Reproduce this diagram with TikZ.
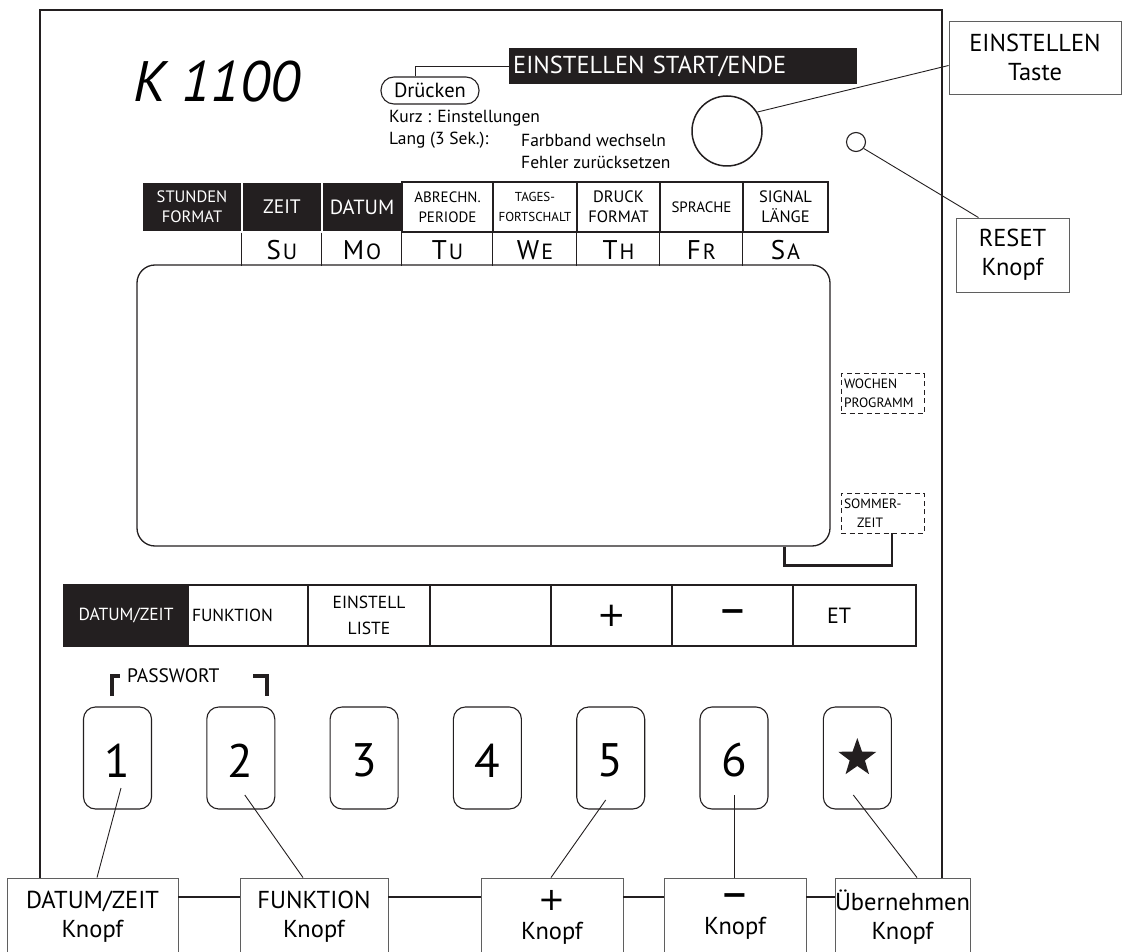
\documentclass[tikz,border=0pt]{standalone}
\usepackage{fontspec}
\setmainfont{PT Sans}
\newfontfamily\signfont{DejaVu Sans}
\usepackage{tikz}
\usetikzlibrary{shapes.geometric}
\definecolor{PanelInk}{RGB}{35,31,32}
\definecolor{TagGrey}{RGB}{95,95,95}

\begin{document}
\begin{tikzpicture}[
    x=1pt, y=-1pt,
    panel/.style={
        draw=PanelInk,
        line width=2.4pt
    },
    hcell/.style={
        rectangle,
        draw=PanelInk,
        line width=1.3pt,
        minimum height=50pt,
        inner sep=1pt,
        align=center,
        font=\fontsize{16.5}{20}\selectfont
    },
    hdark/.style={
        hcell,
        fill=PanelInk,
        draw=white,
        text=white
    },
    fcell/.style={
        rectangle,
        draw=PanelInk,
        line width=2pt,
        minimum height=61pt,
        inner sep=2pt,
        align=center,
        font=\fontsize{17.5}{26}\selectfont
    },
    fdark/.style={
        fcell,
        fill=PanelInk,
        text=white
    },
    keybox/.style={
        rectangle,
        draw=PanelInk,
        line width=1.1pt,
        rounded corners=12pt,
        minimum width=68pt,
        minimum height=102pt,
        text height=38pt,
        font=\fontsize{47}{50}\selectfont
    },
    tag/.style={
        rectangle,
        draw=TagGrey,
        line width=0.9pt,
        align=center,
        inner sep=0pt,
        font=\fontsize{24.5}{29}\selectfont
    },
    dashbox/.style={
        rectangle,
        draw=PanelInk,
        dash pattern=on 5pt off 3.5pt,
        line width=0.8pt,
        align=left,
        text width=77pt,
        inner xsep=3pt,
        inner ysep=1pt,
        minimum height=40pt,
        font=\fontsize{13.5}{19.5}\selectfont
    },
    note/.style={
        anchor=base west,
        inner sep=0pt,
        font=\fontsize{17.5}{20}\selectfont
    },
    day/.style={
        anchor=base,
        inner sep=0pt,
        font=\fontsize{27}{28}\selectfont
    },
    link/.style={
        draw=PanelInk,
        line width=0.9pt
    },
    bar/.style={
        draw=PanelInk,
        line width=2pt
    }
]

\useasboundingbox (0,0) rectangle (1122,952);

\draw[panel] (40,878) -- (40,10) -- (942,10) -- (942,878);

\node[anchor=west, inner sep=0pt, font=\itshape\fontsize{57}{60}\selectfont] (model) at (133,82)
    {K 1100};

\node[anchor=west, fill=PanelInk, text=white, text width=340pt, inner xsep=4pt,
      minimum height=36pt, font=\fontsize{24.5}{26}\selectfont] (startend) at (509,66)
    {EINSTELLEN START/ENDE};

\node[draw=PanelInk, line width=1.1pt, rounded corners=13pt, minimum width=98pt,
      minimum height=27pt, inner sep=0pt, font=\fontsize{20.5}{22}\selectfont] (press) at (430,90.5)
    {Drücken};

\node[note] (kurz) at (389,123) {Kurz : Einstellungen};
\node[note] (lang) at (389,145) {Lang (3 Sek.):};
\node[note] (band) at (521,147) {Farbband wechseln};
\node[note] (fehler) at (521,169) {Fehler zurücksetzen};

\node[circle, draw=PanelInk, line width=1.5pt, minimum size=70pt, inner sep=0pt] (setkey) at (727,131) {};
\node[circle, draw=PanelInk, line width=1.1pt, minimum size=19pt, inner sep=0pt] (resetkey) at (856,142) {};

\node[tag, minimum width=172pt, minimum height=73pt] (settag) at (1035,57.5)
    {EINSTELLEN\\Taste};
\node[tag, minimum width=113pt, minimum height=74pt] (resettag) at (1012.5,255)
    {RESET\\Knopf};


\node[hdark, minimum width=100pt] (hfmt) at (192,207) {STUNDEN\\FORMAT};
\node[hdark, minimum width=80pt, font=\fontsize{19.5}{20}\selectfont] (hzeit) at (282,207) {ZEIT};
\node[hdark, minimum width=80pt, font=\fontsize{20.5}{22}\selectfont] (hdatum) at (362,207) {DATUM};
\node[hcell, minimum width=91pt, font=\fontsize{15}{20}\selectfont] (habr) at (447.5,207) {ABRECHN.\\PERIODE};
\node[hcell, minimum width=84pt, font=\fontsize{13}{20}\selectfont] (htag) at (535,207) {TAGES-\\FORTSCHALT};
\node[hcell, minimum width=83pt] (hdruck) at (618.5,207) {DRUCK\\FORMAT};
\node[hcell, minimum width=83pt, font=\fontsize{15}{16}\selectfont] (hspr) at (701.5,207) {SPRACHE};
\node[hcell, minimum width=85pt] (hsig) at (785.5,207) {SIGNAL\\LÄNGE};

\foreach \c in {hzeit,hdatum,habr,htag,hdruck,hspr,hsig}
    \draw[PanelInk, line width=1.5pt] (\c.south west) -- ++(0,33);

\foreach \c/\a/\b in {hzeit/S/U,hdatum/M/O,habr/T/U,htag/W/E,hdruck/T/H,hspr/F/R,hsig/S/A}
    \node[day] (d\c) at ([yshift=-27pt]\c.south) {\a\kern2pt{\fontsize{22}{22}\selectfont\b}};


\node[draw=PanelInk, line width=1.3pt, rounded corners=18pt, minimum width=693pt,
      minimum height=281pt] (display) at (483.5,405.5) {};

\node[dashbox] (weekprog) at (882.5,393.5) {WOCHEN\\PROGRAMM};
\node[dashbox] (summer) at (882.5,513) {SOMMER-\\\hspace*{13pt}ZEIT};


\node[fdark, minimum width=124pt] (fdz) at (126,615.5) {DATUM/ZEIT};
\node[fcell, text width=112pt, inner xsep=4pt, align=left] (ffn) at (248,615.5) {FUNKTION};
\node[fcell, minimum width=122pt] (fset) at (369,615.5) {EINSTELL\\LISTE};
\node[fcell, minimum width=121pt] (fblank) at (490.5,615.5) {};
\node[fcell, minimum width=121pt, font=\signfont\fontsize{34}{34}\selectfont] (fplus) at (611.5,615.5) {+};
\node[fcell, minimum width=121pt, font=\signfont\bfseries\fontsize{32}{34}\selectfont] (fminus) at (732.5,615.5) {−};
\node[fcell, text width=115pt, inner xsep=4pt, align=left, font=\fontsize{22}{24}\selectfont] (fet) at (854.5,615.5)
    {\hspace*{30pt}ET};

\node[anchor=base west, inner sep=0pt, font=\fontsize{19.5}{20}\selectfont] (pw) at (127,682) {PASSWORT};


\node[keybox] (k1) at (117.5,758) {1};
\node[keybox] (k2) at (240.8,758) {2};
\node[keybox] (k3) at (364.1,758) {3};
\node[keybox] (k4) at (487.4,758) {4};
\node[keybox] (k5) at (610.7,758) {5};
\node[keybox] (k6) at (734,758) {6};
\node[keybox] (kstar) at (857.3,758) {};
\node[star, star points=5, star point ratio=2.5, fill=PanelInk, minimum size=40pt, inner sep=0pt] (starmark) at (kstar) {};


\node[tag, minimum width=171pt, minimum height=78pt] (tdz) at (92.5,917)
    {DATUM/ZEIT\\Knopf};
\node[tag, minimum width=148pt, minimum height=78pt] (tfn) at (314,917)
    {FUNKTION\\Knopf};
\node[tag, minimum width=142pt, minimum height=78pt] (tplus) at (552,917)
    {{\signfont\fontsize{32}{29}\selectfont +}\\Knopf};
\node[tag, minimum width=142pt, minimum height=78pt] (tminus) at (735,917)
    {{\signfont\bfseries\fontsize{32}{29}\selectfont −}\\Knopf};
\node[tag, minimum width=135pt, minimum height=78pt] (take) at (902.5,917)
    {Übernehmen\\Knopf};


\draw[link] ([xshift=-15pt]press.north) |- (startend.west);

\draw[link] (setkey.32) -- ([yshift=-8pt]settag.west);
\draw[link] (resetkey.-40) -- ([xshift=-34pt]resettag.north);

\draw[PanelInk, line width=2.5pt]
    ([xshift=-46pt]display.south east)
    -- ++(0,19)
    -| ([xshift=9.5pt]summer.south);

\draw[PanelInk, line width=3.5pt] (112,696) -- (112,676) -- (120,676);
\draw[PanelInk, line width=3.5pt] (253,676) -- (267,676) -- (267,696);

\draw[link] ([xshift=3.5pt,yshift=-30pt]k1.center) -- ([xshift=4.5pt]tdz.north);
\draw[link] ([xshift=4pt,yshift=-37pt]k2.center) -- ([xshift=-11pt]tfn.north);
\draw[link] ([xshift=-5pt,yshift=-42pt]k5.center) -- ([xshift=-1pt]tplus.north);
\draw[link] ([yshift=-37pt]k6.center) -- ([xshift=-1pt]tminus.north);
\draw[link] ([xshift=-4pt,yshift=-37pt]kstar.center) -- ([xshift=14.5pt]take.north);

\draw[bar] ([yshift=-19pt]tdz.north east) -- ([yshift=-19pt]tfn.north west);
\draw[bar] ([yshift=-19pt]tfn.north east) -- ([yshift=-19pt]tplus.north west);
\draw[bar] ([yshift=-19pt]tplus.north east) -- ([yshift=-19pt]tminus.north west);
\draw[bar] ([yshift=-19pt]tminus.north east) -- ([yshift=-19pt]take.north west);

\end{tikzpicture}
\end{document}
